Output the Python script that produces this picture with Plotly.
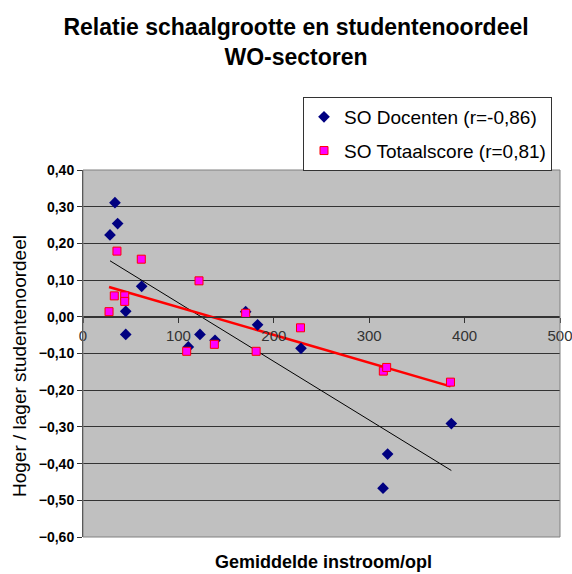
import numpy as np
import plotly.graph_objects as go

# Data
doc_x = [28.3, 33.5, 36.3, 44.8, 44.8, 61.5, 110.4, 122.6, 138.4, 170.5, 183.0, 228.5, 314.5, 319.3, 386.1]
doc_y = [0.223, 0.311, 0.254, 0.015, -0.048, 0.083, -0.082, -0.048, -0.064, 0.014, -0.022, -0.086, -0.467, -0.374, -0.291]
tot_x = [27.3, 32.8, 35.6, 43.7, 43.7, 61.1, 108.7, 121.6, 137.7, 170.5, 181.5, 228.0, 314.8, 318.3, 385.2]
tot_y = [0.014, 0.057, 0.179, 0.057, 0.042, 0.157, -0.094, 0.098, -0.075, 0.0095, -0.094, -0.030, -0.148, -0.138, -0.178]

doc_name = "SO Docenten (r=-0,86)"
tot_name = "SO Totaalscore (r=0,81)"
title_line1 = "Relatie schaalgrootte en studentenoordeel"
title_line2 = "WO-sectoren"
x_title = "Gemiddelde instroom/opl"
y_title = "Hoger / lager studentenoordeel"

FONT = "Liberation Sans, Arial, sans-serif"

W, H = 572, 574
L, R, T, B = 83, 12, 170, 37
PW, PH = W - L - R, H - T - B


def trend(xs, ys):
    xs = np.asarray(xs)
    ys = np.asarray(ys)
    k, b = np.polyfit(xs, ys, 1)
    tx = np.array([xs.min(), xs.max()])
    return tx, k * tx + b


fig = go.Figure()

dtx, dty = trend(doc_x, doc_y)
ttx, tty = trend(tot_x, tot_y)

fig.add_trace(go.Scatter(x=dtx, y=dty, mode="lines", line=dict(color="black", width=1),
                         showlegend=False, hoverinfo="skip"))
fig.add_trace(go.Scatter(x=ttx, y=tty, mode="lines", line=dict(color="#FF0000", width=2.5),
                         showlegend=False, hoverinfo="skip"))

fig.add_trace(go.Scatter(x=doc_x, y=doc_y, mode="markers", name=doc_name, legendgroup="a",
                         marker=dict(symbol="diamond", size=9, color="#000080",
                                     line=dict(color="#000080", width=0))))
fig.add_trace(go.Scatter(x=tot_x, y=tot_y, mode="markers", name=tot_name, legendgroup="b",
                         marker=dict(symbol="square", size=8, color="#FF00FF",
                                     line=dict(color="#FF0000", width=1))))

fig.update_layout(
    width=W, height=H, autosize=False,
    margin=dict(l=L, r=R, t=T, b=B, pad=0),
    paper_bgcolor="white", plot_bgcolor="#C0C0C0",
    separators=",.",
    font=dict(family=FONT, color="black"),
    title=dict(text="<b>" + title_line1 + "<br>" + title_line2 + "</b>",
               x=296 / W, xref="container", xanchor="center",
               y=1 - 35 / H, yref="container", yanchor="top",
               font=dict(size=23, family=FONT, color="black")),
    showlegend=True,
    legend=dict(x=(303 - L) / PW, y=(H - B - 97) / PH, xanchor="left", yanchor="top",
                bgcolor="white", bordercolor="#333333", borderwidth=1,
                font=dict(size=19, family=FONT, color="black"),
                traceorder="grouped", tracegroupgap=6),
    xaxis=dict(range=[0, 500], dtick=100, tick0=0, showgrid=False, zeroline=False,
               anchor="free", position=0.6, showline=True, linecolor="#333333", linewidth=1,
               ticks="outside", ticklen=5, tickcolor="#333333", automargin=False,
               ticklabeloverflow="allow",
               tickfont=dict(size=15, family=FONT, color="#333333")),
    yaxis=dict(range=[-0.6, 0.4], dtick=0.1, tick0=0, tickformat=".2f",
               showgrid=True, gridcolor="#333333", gridwidth=1, zeroline=False,
               showline=True, linecolor="#333333", linewidth=1, automargin=False,
               ticks="outside", ticklen=5, tickcolor="#333333",
               tickfont=dict(size=14, family=FONT, color="black", weight="bold")),
    annotations=[
        dict(text="<b>" + x_title + "</b>", x=(323 - L) / PW, xref="paper", xanchor="center",
             y=-(562 - (H - B)) / PH, yref="paper", yanchor="middle", showarrow=False,
             font=dict(size=18, family=FONT, color="black")),
        dict(text=y_title, textangle=-90, x=-(L - 19) / PW, xref="paper", xanchor="center",
             y=(H - B - 366) / PH, yref="paper", yanchor="middle", showarrow=False,
             font=dict(size=19, family=FONT, color="black")),
    ],
    shapes=[dict(type="rect", xref="paper", yref="paper", x0=0, x1=1, y0=0, y1=1,
                 line=dict(color="#808080", width=1), fillcolor="rgba(0,0,0,0)", layer="above")],
)

fig.write_html("out.html", config={"displayModeBar": False},
               post_script="document.body.style.margin='0';document.body.style.padding='0';"
                           "document.body.style.overflow='hidden';")
